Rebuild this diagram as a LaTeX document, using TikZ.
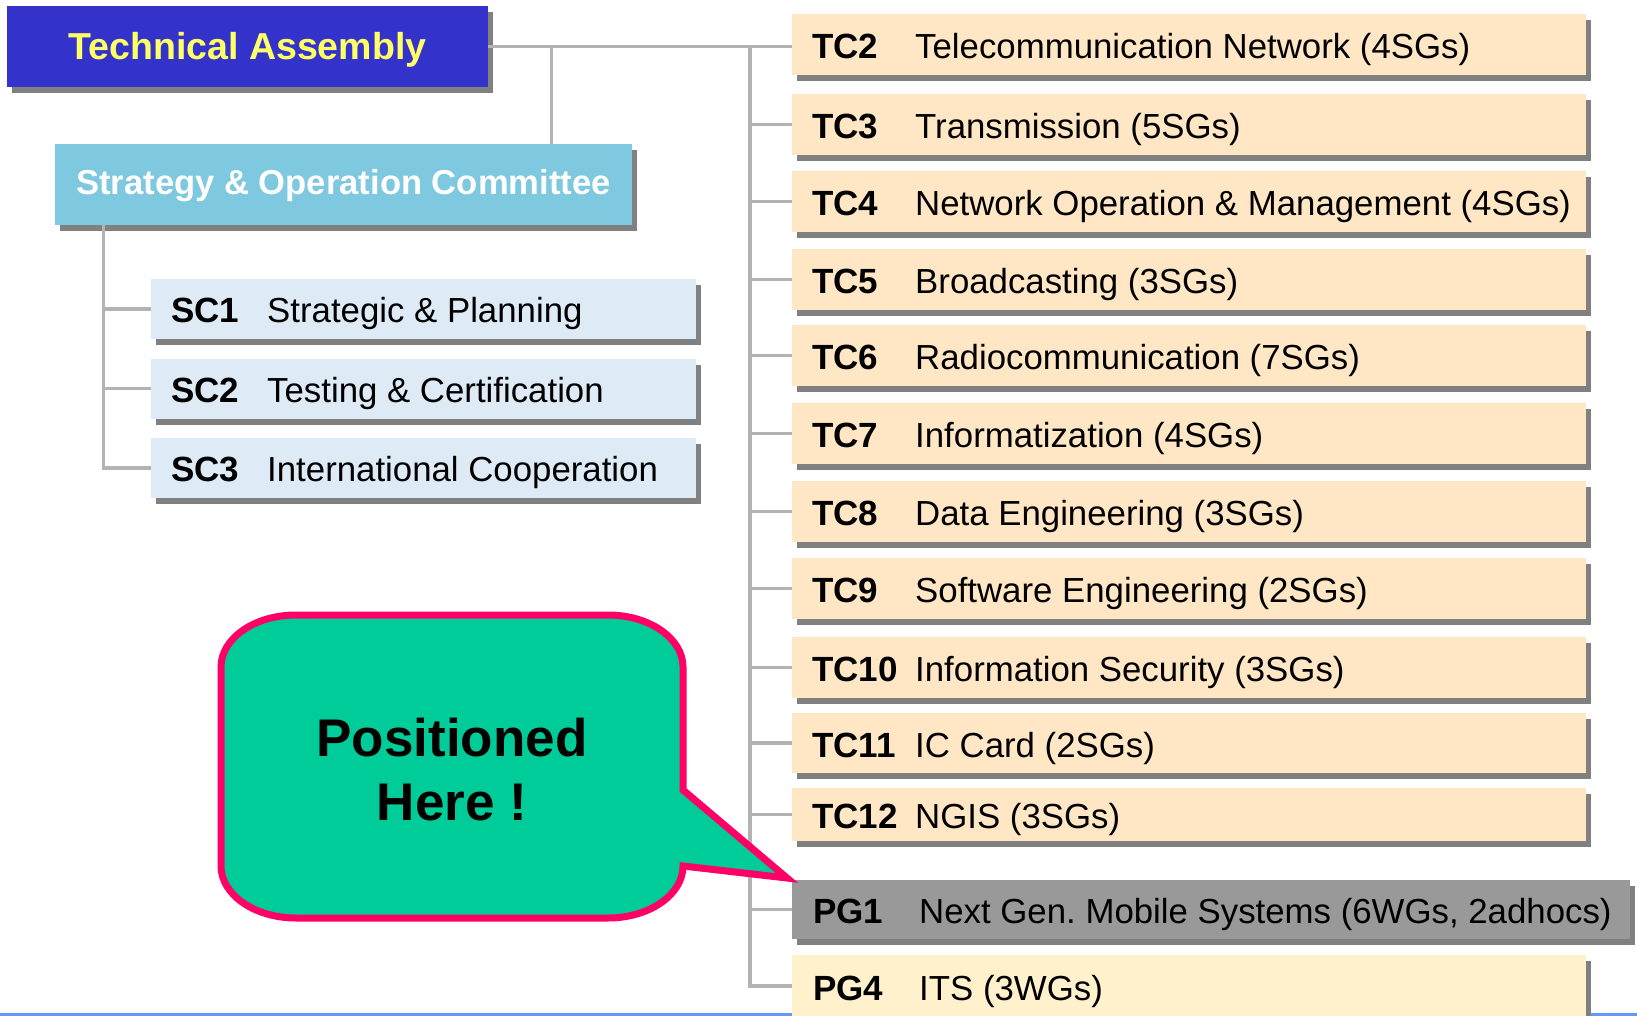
\documentclass[tikz,border=0pt]{standalone}
\usepackage{fontspec}
\setmainfont{Liberation Sans}
\usetikzlibrary{shadows,calc}
\frenchspacing

\definecolor{taBlue}{HTML}{3333CC}
\definecolor{taText}{HTML}{FFFF66}
\definecolor{socBlue}{HTML}{7EC8E0}
\definecolor{scFill}{HTML}{DEEBF6}
\definecolor{tcFill}{HTML}{FFE6C4}
\definecolor{pgGray}{HTML}{999999}
\definecolor{pgFill}{HTML}{FFF1CC}
\definecolor{shadeGray}{HTML}{808080}
\definecolor{wire}{HTML}{B3B3B3}
\definecolor{calloutFill}{HTML}{00CC99}
\definecolor{calloutEdge}{HTML}{FF0066}
\definecolor{ruleDark}{HTML}{6699FF}
\definecolor{ruleLight}{HTML}{CCDDFF}

\begin{document}
\begin{tikzpicture}[x=1pt,y=-1pt,
  box/.style={draw=none, inner sep=0pt, outer sep=0pt,
    general shadow={shadow xshift=5pt, shadow yshift=-6pt, fill=shadeGray}},
  tcbox/.style={box, fill=tcFill, minimum width=794pt, minimum height=61pt},
  scbox/.style={box, fill=scFill, minimum width=545pt, minimum height=60pt},
  connector/.style={draw=wire, line width=3.5pt},
  lbl/.style={inner sep=0pt, anchor=base west,
    font=\bfseries\fontsize{35pt}{40pt}\selectfont},
  desc/.style={inner sep=0pt, anchor=base west,
    font=\fontsize{34.8pt}{40pt}\selectfont},
  head/.style={inner sep=0pt, anchor=base,
    font=\bfseries\fontsize{34.6pt}{40pt}\selectfont}
]
\useasboundingbox (0,0) rectangle (1637,1016);
\clip (0,0) rectangle (1637,1016);
\fill[white] (0,0) rectangle (1637,1016);

% thin rule along the bottom edge
\fill[left color=ruleDark, middle color=ruleLight, right color=ruleDark]
  (0,1013) rectangle (1637,1016);

% ---- box positions ----
\coordinate (TApos)  at (247.5,46.5);
\coordinate (SOCpos) at (343.5,184.5);

% ---- branch points of the tree ----
\coordinate (soctap)   at (551.5,46.5);
\coordinate (trunktop) at (750,46.5);
\coordinate (sctap)    at (103.5,225);

% ---- boxes ----
\node[box, fill=taBlue, minimum width=481pt, minimum height=81pt] (TA) at (TApos) {};
\node[box, fill=socBlue, minimum width=577pt, minimum height=81pt] (SOC) at (SOCpos) {};

\foreach \n/\y in {SC1/309, SC2/388.5, SC3/468}
  \node[scbox] (\n) at (423.5,\y) {};

\foreach \n/\y/\h in {TC2/44.5/61, TC3/124.5/61, TC4/201.5/61, TC5/279.5/61,
    TC6/355.5/61, TC7/433.5/61, TC8/511.5/61, TC9/588.5/61, TC10/667.5/61,
    TC11/743/60, TC12/814.5/53}
  \node[tcbox, minimum height=\h pt] (\n) at (1189,\y) {};

\node[box, fill=pgGray, minimum width=838pt, minimum height=59pt] (PG1) at (1211,909.5) {};
\node[box, fill=pgFill, minimum width=794pt, minimum height=62pt] (PG4) at (1189,986) {};

% ---- tree lines ----
\draw[connector] (TA.east) -- (TA.east -| TC2.west);
\draw[connector] (soctap) -- (soctap |- SOC.north);
\draw[connector] (trunktop) |- (PG4.west);
\foreach \n in {TC3,TC4,TC5,TC6,TC7,TC8,TC9,TC10,TC11,TC12,PG1}
  \draw[connector] (\n.west -| trunktop) -- (\n.west);
\draw[connector] (sctap) |- (SC3.west);
\foreach \n in {SC1,SC2}
  \draw[connector] (\n.west -| sctap) -- (\n.west);

% ---- headings ----
\node[head, text=taText, font=\bfseries\fontsize{37.5pt}{44pt}\selectfont]
  (TAtext) at ($(TA.center)+(0,13)$) {Technical Assembly};
\node[head, text=white] (SOCtext) at ($(SOC.center)+(0,10)$) {Strategy \& Operation Committee};

% ---- committee labels ----
\foreach \n/\d in {SC1/Strategic \& Planning, SC2/Testing \& Certification,
    SC3/International Cooperation} {
  \node[lbl] (\n lab) at ($(\n.west)+(20,13.5)$) {\n};
  \node[desc] (\n txt) at ($(\n.west)+(116,13.5)$) {\d};
}

\foreach \n/\d in {TC2/Telecommunication Network (4SGs), TC3/Transmission (5SGs),
    TC4/Network Operation \& Management (4SGs), TC5/Broadcasting (3SGs),
    TC6/Radiocommunication (7SGs), TC7/Informatization (4SGs),
    TC8/Data Engineering (3SGs), TC9/Software Engineering (2SGs),
    TC10/Information Security (3SGs), TC11/IC Card (2SGs), TC12/NGIS (3SGs)} {
  \node[lbl] (\n lab) at ($(\n.west)+(20,14)$) {\n};
  \node[desc] (\n txt) at ($(\n.west)+(123,14)$) {\d};
}

\node[lbl] (PG1lab) at ($(PG1.west)+(21,14)$) {PG1};
\node[desc] (PG1txt) at ($(PG1.west)+(127,14)$) {Next Gen. Mobile Systems (6WGs, 2adhocs)};
\node[lbl] (PG4lab) at ($(PG4.west)+(21,14)$) {PG4};
\node[desc] (PG4txt) at ($(PG4.west)+(127,14)$) {ITS (3WGs)};

% ---- speech balloon pointing at PG1 ----
\coordinate (tip) at ($(PG1.north west)+(-5,-2)$);
\draw[fill=calloutFill, draw=calloutEdge, line width=7pt, line join=miter]
  (296,615) -- (608,615)
  .. controls (649.4,615) and (683,638.3) .. (683,667)
  -- (683,790) -- (tip) -- (683,866)
  .. controls (683,894.7) and (649.4,918) .. (608,918)
  -- (296,918)
  .. controls (254.6,918) and (221,894.7) .. (221,866)
  -- (221,667)
  .. controls (221,638.3) and (254.6,615) .. (296,615) -- cycle;
\node[head, font=\bfseries\fontsize{53pt}{64pt}\selectfont] (here1) at (452,756) {Positioned};
\node[head, font=\bfseries\fontsize{53pt}{64pt}\selectfont] (here2) at (452,820) {Here !};
\end{tikzpicture}
\end{document}
